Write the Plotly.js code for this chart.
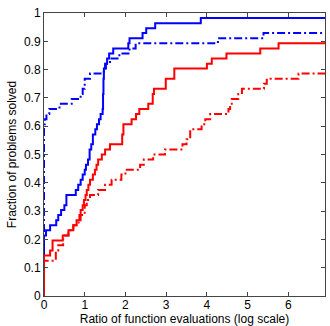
<!DOCTYPE html>
<html>
<head>
<meta charset="utf-8">
<script src="https://cdn.plot.ly/plotly-3.0.1.min.js"></script>
<style>html,body{margin:0;padding:0;background:#fff;}#chart{width:330px;height:326px;}</style>
</head>
<body>
<div id="chart"></div>
<script>
// Blue solid
var blueSolidX = [0, 0, 0.05, 0.15, 0.30, 0.35, 0.42, 0.50, 0.55, 0.78, 0.84, 0.90, 0.95, 1.00, 1.03, 1.08, 1.12, 1.16, 1.20, 1.26, 1.30, 1.35, 1.39, 1.44, 1.45, 1.46, 1.47, 1.50, 1.55, 1.60, 1.70, 2.07, 2.10, 2.42, 2.51, 2.73, 3.85, 6.9];
var blueSolidY = [0, 0.214, 0.232, 0.250, 0.268, 0.286, 0.304, 0.321, 0.357, 0.375, 0.393, 0.411, 0.429, 0.446, 0.464, 0.482, 0.518, 0.536, 0.571, 0.589, 0.607, 0.625, 0.643, 0.661, 0.714, 0.768, 0.804, 0.821, 0.839, 0.857, 0.875, 0.893, 0.911, 0.929, 0.946, 0.964, 0.982, 0.982];
// Blue dash-dot
var blueDashX = [0, 0, 0.02, 0.06, 0.13, 0.38, 0.68, 0.90, 0.95, 1.00, 1.13, 1.47, 1.52, 1.62, 1.85, 2.10, 2.25, 4.27, 5.39, 6.9];
var blueDashY = [0, 0.607, 0.625, 0.643, 0.661, 0.679, 0.696, 0.714, 0.732, 0.768, 0.786, 0.804, 0.821, 0.839, 0.857, 0.875, 0.893, 0.911, 0.929, 0.929];
// Red solid
var redSolidX = [0, 0, 0.15, 0.21, 0.46, 0.60, 0.72, 0.80, 0.87, 0.90, 0.95, 0.98, 1.02, 1.05, 1.09, 1.13, 1.20, 1.25, 1.29, 1.33, 1.42, 1.50, 1.62, 1.92, 1.95, 2.15, 2.26, 2.34, 2.56, 2.67, 2.70, 2.99, 3.20, 4.00, 4.12, 4.48, 5.31, 5.76, 6.9];
var redSolidY = [0, 0.143, 0.161, 0.196, 0.214, 0.232, 0.250, 0.268, 0.286, 0.304, 0.321, 0.339, 0.357, 0.375, 0.393, 0.411, 0.429, 0.446, 0.464, 0.482, 0.500, 0.518, 0.536, 0.571, 0.607, 0.625, 0.643, 0.661, 0.679, 0.714, 0.732, 0.768, 0.804, 0.821, 0.839, 0.857, 0.875, 0.893, 0.893];
// Red dash-dot
var redDashX = [0, 0, 0.29, 0.35, 0.47, 0.60, 0.72, 0.85, 0.90, 1.00, 1.05, 1.13, 1.33, 1.50, 1.66, 1.90, 2.00, 2.36, 2.45, 2.68, 2.97, 3.40, 3.50, 3.59, 3.87, 3.96, 4.08, 4.53, 4.57, 4.61, 4.77, 4.86, 5.40, 5.47, 6.25, 6.9];
var redDashY = [0, 0.125, 0.161, 0.179, 0.214, 0.232, 0.250, 0.268, 0.286, 0.321, 0.339, 0.357, 0.375, 0.393, 0.411, 0.429, 0.446, 0.464, 0.482, 0.500, 0.518, 0.536, 0.554, 0.589, 0.607, 0.625, 0.643, 0.661, 0.679, 0.696, 0.714, 0.732, 0.750, 0.768, 0.786, 0.786];

var xTicks = [0, 1, 2, 3, 4, 5, 6];
var yTicks = [0, 0.1, 0.2, 0.3, 0.4, 0.5, 0.6, 0.7, 0.8, 0.9, 1];
var yTickText = ['0', '0.1', '0.2', '0.3', '0.4', '0.5', '0.6', '0.7', '0.8', '0.9', '1'];

var dd = '8px,3px,2px,3px';
var traces = [
  {x: blueSolidX, y: blueSolidY, mode: 'lines', line: {shape: 'hv', color: '#0000ff', width: 2}},
  {x: blueDashX, y: blueDashY, mode: 'lines', line: {shape: 'hv', color: '#0000ff', width: 2, dash: dd}},
  {x: redSolidX, y: redSolidY, mode: 'lines', line: {shape: 'hv', color: '#ff0000', width: 2}},
  {x: redDashX, y: redDashY, mode: 'lines', line: {shape: 'hv', color: '#ff0000', width: 2, dash: dd}}
];

var axisCommon = {
  showgrid: false, zeroline: false, showline: true, mirror: 'ticks',
  linecolor: '#444', linewidth: 1, ticks: 'inside', ticklen: 4, tickcolor: '#444',
  tickfont: {family: 'Liberation Sans, Arial, sans-serif', size: 12, color: '#000'}
};

var layout = {
  width: 330, height: 326,
  margin: {l: 44, r: 5, t: 13, b: 30},
  paper_bgcolor: '#fff', plot_bgcolor: '#fff',
  showlegend: false,
  font: {family: 'Liberation Sans, Arial, sans-serif', size: 12, color: '#000'},
  xaxis: Object.assign({}, axisCommon, {
    range: [0, 6.9], tickmode: 'array', tickvals: xTicks, ticklabelstandoff: -2,
    title: {text: 'Ratio of function evaluations (log scale)', font: {size: 12}}
  }),
  yaxis: Object.assign({}, axisCommon, {
    range: [0, 1], tickmode: 'array', tickvals: yTicks, ticktext: yTickText,
    title: {text: 'Fraction of problems solved', font: {size: 12}, standoff: 4}
  })
};

Plotly.newPlot('chart', traces, layout, {staticPlot: true, displayModeBar: false});
</script>
</body>
</html>
